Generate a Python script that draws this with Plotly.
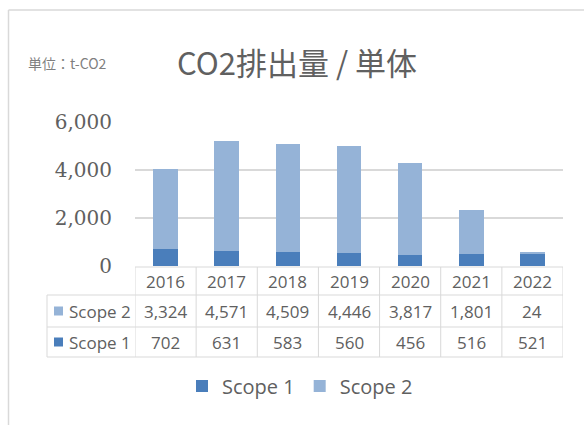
import plotly.graph_objects as go

years = ["2016", "2017", "2018", "2019", "2020", "2021", "2022"]
scope1 = [702, 631, 583, 560, 456, 516, 521]
scope2 = [3324, 4571, 4509, 4446, 3817, 1801, 24]
series_names = ["Scope 1", "Scope 2"]
colors = ["#4A7EBB", "#95B3D7"]
y_ticks = [0, 2000, 4000, 6000]

W, H = 584, 425
L, R, T, B = 135, 21, 122, 159
PH = H - T - B
PW = W - L - R

def py(p):  # pixel y -> paper y
    return (H - B - p) / PH

def px(p):  # pixel x -> paper x
    return (p - L) / PW

fig = go.Figure()
fig.add_trace(go.Bar(x=years, y=scope1, name=series_names[0], marker_color=colors[0],
                     marker_line_width=0, width=0.4))
fig.add_trace(go.Bar(x=years, y=scope2, name=series_names[1], marker_color=colors[1],
                     marker_line_width=0, width=0.4))

grid = "#D9D9D9"
txt = "#606060"
shapes = []
annotations = []

# outer frame
shapes.append(dict(type="line", xref="paper", yref="paper", x0=px(8.5), x1=px(590),
                   y0=py(10), y1=py(10), line=dict(color=grid, width=1.5)))
shapes.append(dict(type="line", xref="paper", yref="paper", x0=px(8.5), x1=px(8.5),
                   y0=py(10), y1=py(430), line=dict(color=grid, width=1.5)))

# data table
row_top = [267, 295, 327]
row_bot = 357
tbl_left = 47
shapes.append(dict(type="line", xref="x", yref="paper", x0=-0.5, x1=len(years) - 0.5,
                   y0=py(row_top[0]), y1=py(row_top[0]), line=dict(color=grid, width=1)))
for yy in [row_top[1], row_top[2], row_bot]:
    shapes.append(dict(type="line", xref="paper", yref="paper", x0=px(tbl_left), x1=1,
                       y0=py(yy), y1=py(yy), line=dict(color=grid, width=1)))
for i in range(len(years) + 1):
    shapes.append(dict(type="line", xref="x", yref="paper", x0=i - 0.5, x1=i - 0.5,
                       y0=py(row_top[0]), y1=py(row_bot), line=dict(color=grid, width=1)))
shapes.append(dict(type="line", xref="paper", yref="paper", x0=px(tbl_left), x1=px(tbl_left),
                   y0=py(row_top[1]), y1=py(row_bot), line=dict(color=grid, width=1)))

cell_font = dict(family="Open Sans, Noto Sans, sans-serif", size=17, color=txt)
row_mid = [(row_top[0] + row_top[1]) / 2, (row_top[1] + row_top[2]) / 2, (row_top[2] + row_bot) / 2]
for i, yv in enumerate(years):
    xc = px(L + (i + 0.5) * PW / len(years))
    for txt_val, ym in [(yv, row_mid[0]), (f"{scope2[i]:,}", row_mid[1]), (f"{scope1[i]:,}", row_mid[2])]:
        annotations.append(dict(x=xc, y=py(ym), xref="paper", yref="paper", text=txt_val,
                                showarrow=False, font=cell_font, xanchor="center", yanchor="middle"))

for name, col, ym in [(series_names[1], colors[1], row_mid[1]), (series_names[0], colors[0], row_mid[2])]:
    shapes.append(dict(type="rect", xref="paper", yref="paper", x0=px(54), x1=px(63),
                       y0=py(ym - 4.5), y1=py(ym + 4.5), fillcolor=col, line=dict(width=0)))
    annotations.append(dict(x=px(67), y=py(ym), xref="paper", yref="paper", text=name,
                            showarrow=False, font=cell_font, xanchor="left", yanchor="middle"))

annotations.append(dict(x=px(297), y=py(62), xref="paper", yref="paper", text="CO2排出量 / 単体",
                        showarrow=False, xanchor="center", yanchor="middle",
                        font=dict(family="Noto Sans CJK JP", size=31, color=txt)))
annotations.append(dict(x=px(26), y=py(63), xref="paper", yref="paper", text="単位：t-CO2",
                        showarrow=False, xanchor="left", yanchor="middle",
                        font=dict(family="Noto Sans CJK JP", size=14, color="#7F7F7F")))

fig.update_layout(
    width=W, height=H,
    margin=dict(l=L, r=R, t=T, b=B, autoexpand=False),
    barmode="stack",
    bargap=0.6,
    paper_bgcolor="white", plot_bgcolor="white",
    shapes=shapes, annotations=annotations,
    showlegend=True,
    legend=dict(orientation="h", traceorder="normal", x=px(300), xanchor="center",
                y=py(386), yanchor="middle", font=dict(family="Open Sans, sans-serif", size=20, color=txt),
                itemwidth=30, bgcolor="rgba(0,0,0,0)"),
    xaxis=dict(type="category", range=[-0.5, len(years) - 0.5], showticklabels=False,
               showgrid=False, zeroline=False, showline=False, ticks=""),
    yaxis=dict(range=[0, 6000], tickvals=y_ticks, tickformat=",d", showgrid=True, gridcolor=grid,
               gridwidth=1.5, zeroline=False, showline=False, ticks="", ticklabelstandoff=22,
               tickfont=dict(family="DejaVu Serif", size=20, color=txt)),
)

fig.write_html("out.html", config={"displayModeBar": False},
               post_script="document.body.style.margin='0';")
